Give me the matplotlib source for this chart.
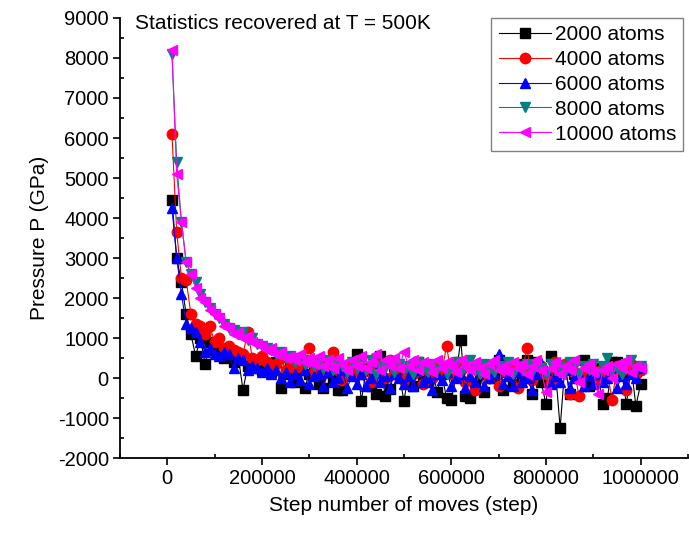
import numpy as np
import matplotlib
matplotlib.use("Agg")
import matplotlib.pyplot as plt
from matplotlib.ticker import MultipleLocator, FuncFormatter

plt.rcParams['font.family'] = ['Liberation Sans', 'DejaVu Sans']
plt.rcParams['axes.unicode_minus'] = False

# pressure sampled every 10000 moves, 10000 .. 1000000
steps = np.arange(10000, 1000001, 10000)

p_2000 = [4450, 3000, 2400, 1600, 1100, 550, 1000, 350, 900, 700,
          600, 500, 650, 400, 550, -300, 300, 250, 450, 200,
          350, 150, 400, -250, 100, 300, -100, 200, -250, 100,
          250, -150, -250, 350, 0, -300, -300, 150, 250, 600,
          -575, 200, -200, -400, 550, -450, -280, 300, 100, -575,
          150, -200, 400, 0, -100, 250, -350, 100, -500, -550,
          50, 950, -450, -500, -150, 100, -350, 300, 0, 450,
          -300, 150, -150, 350, 0, 450, -400, 400, -100, -650,
          550, 200, -1250, 300, -400, 100, 0, 450, -200, 250,
          100, -650, -500, 400, 400, 150, -650, 300, -700, -150]

p_4000 = [6100, 3650, 2500, 2450, 1600, 1350, 1300, 1100, 1300, 900,
          1000, 750, 800, 700, 650, 600, 1150, 500, 450, 550,
          400, 300, 350, 500, 200, 450, 250, 300, 400, 750,
          150, 350, 100, 400, 650, 200, -50, 300, 150, 400,
          100, 250, -100, 350, 200, 0, 450, 100, 300, -50,
          250, 100, 350, -150, 200, 0, 300, 150, 800, 100,
          400, 200, -100, 300, -300, 150, 250, 0, 350, -200,
          250, 100, 300, -250, 200, 750, -50, 150, 300, 100,
          -100, 400, 200, 350, -400, 150, -450, 50, 300, 200,
          -100, 250, 100, -550, 300, 200, -300, 350, 100, 200]

p_6000 = [4250, 3000, 2100, 1350, 1250, 1150, 900, 650, 750, 600,
          550, 650, 600, 250, 500, 450, 200, 300, 250, 150,
          250, 100, 200, 0, 150, -100, 100, -50, 200, -150,
          50, 100, -200, 150, -100, 0, 200, -250, 50, -150,
          100, -200, 0, 150, -100, 50, -250, 100, 0, -150,
          50, -200, 200, -100, 0, -300, 100, -50, 150, -200,
          0, 100, -250, 50, -100, 200, -200, 0, 100, 600,
          -150, 50, -200, 150, -100, 0, -300, 100, 375, 200,
          -150, 50, -100, 200, -250, 0, 100, -200, 50, -150,
          100, -100, 0, 250, -250, 50, -150, 100, 0, 250]

p_8000 = [8100, 5400, 3900, 2900, 2600, 2400, 2100, 1900, 1750, 1600,
          1500, 1350, 1250, 1200, 1100, 1150, 950, 1000, 850, 800,
          750, 700, 600, 650, 500, 550, 400, 500, 350, 450,
          300, 400, 250, 450, 200, 350, 300, 150, 400, 250,
          350, 200, 450, 100, 300, 250, 400, 150, 350, 200,
          300, 100, 400, 250, 150, 350, 200, 300, 100, 250,
          400, 150, 300, 450, 200, 100, 350, 250, 150, 300,
          250, 400, 100, 300, 200, 350, 150, 300, 250, 100,
          350, 200, 300, 150, 400, 250, 100, 300, 200, 350,
          150, 300, 500, 200, 250, 100, 350, 450, 200, 300]

p_10000 = [8200, 5100, 3900, 2900, 2600, 2250, 2000, 1900, 1700, 1600,
           1500, 1300, 1250, 1100, 1150, 1000, 1050, 900, 850, 800,
           700, 750, 600, 650, 500, 550, 450, 600, 400, 500,
           350, 550, 300, 450, 250, 500, 350, 200, 450, 300,
           550, 250, 400, 600, 200, 450, 300, 500, 250, 650,
           300, 450, 200, 400, 350, 150, 450, 250, 400, 300,
           150, 450, 300, 200, 400, 250, 100, 350, 450, 200,
           300, 150, 400, 250, 350, 100, 300, 450, 200, -350,
           250, 400, 100, 300, 200, 450, -100, 250, 350, 150,
           -400, 200, 300, 0, 350, 250, 450, 150, 300, 250]

series = [
    (p_2000, '2000 atoms', 'black', 's'),
    (p_4000, '4000 atoms', 'red', 'o'),
    (p_6000, '6000 atoms', 'blue', '^'),
    (p_8000, '8000 atoms', '#008080', 'v'),
    (p_10000, '10000 atoms', '#ff00ff', '<'),
]

fig = plt.figure(figsize=(6.89, 5.34), dpi=100)
ax = fig.add_axes([0.174, 0.1423, 0.8245, 0.824])

for vals, name, col, mk in series:
    ax.plot(steps, vals, '-', color=col, lw=0.8, marker=mk, ms=7.5,
            mec=col, mfc=col, label=name)

ax.set_xlim(-100000, 1100000)
ax.set_ylim(-2000, 9000)
ax.xaxis.set_major_locator(MultipleLocator(200000))
ax.xaxis.set_minor_locator(MultipleLocator(100000))
ax.xaxis.set_major_formatter(FuncFormatter(lambda v, p: '%d' % v))
ax.yaxis.set_major_locator(MultipleLocator(1000))
ax.yaxis.set_minor_locator(MultipleLocator(500))
ax.tick_params(which='major', direction='out', length=5, width=1.2,
               labelsize=14.5, pad=3)
ax.tick_params(which='minor', direction='in', length=3, width=1.2)

for side in ('top', 'right'):
    ax.spines[side].set_visible(False)
for side in ('left', 'bottom'):
    ax.spines[side].set_linewidth(1.3)

ax.set_xlabel('Step number of moves (step)', fontsize=15, labelpad=6)
ax.set_ylabel('Pressure P (GPa)', fontsize=15, labelpad=6)

ax.text(0.026, 0.975, 'Statistics recovered at T = 500K', transform=ax.transAxes,
        fontsize=15, va='baseline', ha='left')

leg = ax.legend(loc='upper right', bbox_to_anchor=(0.992, 1.0), borderaxespad=0,
                fontsize=15, handlelength=2.5, handletextpad=0.2,
                labelspacing=0.28, borderpad=0.35, fancybox=False, framealpha=1)
leg.get_frame().set_edgecolor('#808080')
leg.get_frame().set_linewidth(1.0)

fig.savefig('out.png', dpi=100)
